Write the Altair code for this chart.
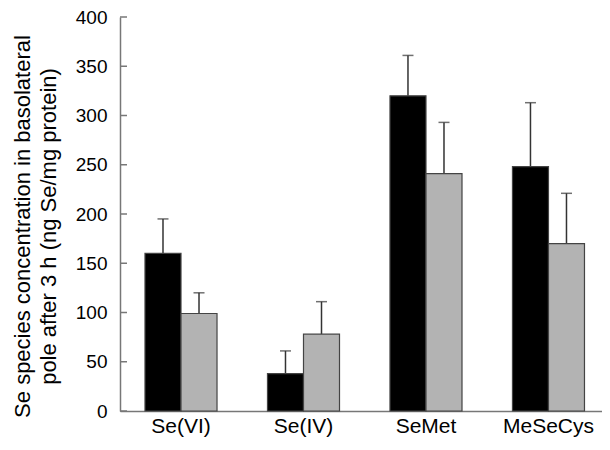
import altair as alt
import pandas as pd

categories = ["Se(VI)", "Se(IV)", "SeMet", "MeSeCys"]
series = ["A", "B"]
black_means = [160, 38, 320, 248]
black_sd = [35, 23, 41, 65]
gray_means = [99, 78, 241, 170]
gray_sd = [21, 33, 52, 51]
y_ticks = [0, 50, 100, 150, 200, 250, 300, 350, 400]

rows = []
for i, c in enumerate(categories):
    rows.append({"cat": c, "series": "A", "mean": black_means[i], "upper": black_means[i] + black_sd[i]})
    rows.append({"cat": c, "series": "B", "mean": gray_means[i], "upper": gray_means[i] + gray_sd[i]})
df = pd.DataFrame(rows)
ticks_df = pd.DataFrame({"v": y_ticks})

FONT = "Liberation Sans"

x_enc = alt.X("cat:N", sort=categories,
              scale=alt.Scale(paddingInner=0.412, paddingOuter=0.1735, align=0.588),
              axis=alt.Axis(title=None, labelAngle=0, ticks=False, tickSize=0,
                            bandPosition=0.5, labelAlign="center", labelBaseline="top",
                            labelPadding=4, labelFontSize=21, labelFont=FONT,
                            labelColor="#000", domainColor="#777", domainWidth=1.5))
xo_enc = alt.XOffset("series:N", sort=series, scale=alt.Scale(paddingInner=0, paddingOuter=0))
y_scale = alt.Scale(domain=[0, 400], nice=False)

bars = alt.Chart(df).mark_bar(stroke="#444", strokeWidth=1.2).encode(
    x=x_enc,
    xOffset=xo_enc,
    y=alt.Y("mean:Q", scale=y_scale,
            axis=alt.Axis(values=y_ticks, ticks=False, tickSize=0, grid=False,
                          labelPadding=13, labelFontSize=19, labelFont=FONT, labelColor="#000",
                          domainColor="#777", domainWidth=1.5,
                          title=["Se species concentration in basolateral",
                                 "pole after 3 h (ng Se/mg protein)"],
                          titleFont=FONT, titleFontSize=22, titleFontWeight="normal",
                          titleColor="#000", titleLineHeight=26,
                          titleX=-108, titleY=209, titleAngle=270,
                          titleBaseline="top", titleAlign="center")),
    color=alt.Color("series:N", sort=series,
                    scale=alt.Scale(domain=series, range=["#000000", "#b3b3b3"]),
                    legend=None),
)

err = alt.Chart(df).mark_rule(color="#333", strokeWidth=1.5).encode(
    x=alt.X("cat:N", sort=categories),
    xOffset=xo_enc,
    y=alt.Y("mean:Q", scale=y_scale),
    y2="upper:Q",
)

caps = alt.Chart(df).mark_tick(color="#333", thickness=1.5, size=11).encode(
    x=alt.X("cat:N", sort=categories),
    xOffset=xo_enc,
    y=alt.Y("upper:Q", scale=y_scale),
)

yticks = alt.Chart(ticks_df).mark_rule(color="#777", strokeWidth=1.5).encode(
    y=alt.Y("v:Q", scale=y_scale),
    x=alt.value(0),
    x2=alt.value(7),
)

chart = alt.layer(err, caps, bars, yticks).properties(
    width=482, height=394,
    autosize=alt.AutoSizeParams(type="none"),
    padding={"left": 112, "top": 9, "right": 0, "bottom": 26},
).configure_view(stroke=None)

chart.save("out.html", embed_options={"renderer": "svg", "actions": False})
